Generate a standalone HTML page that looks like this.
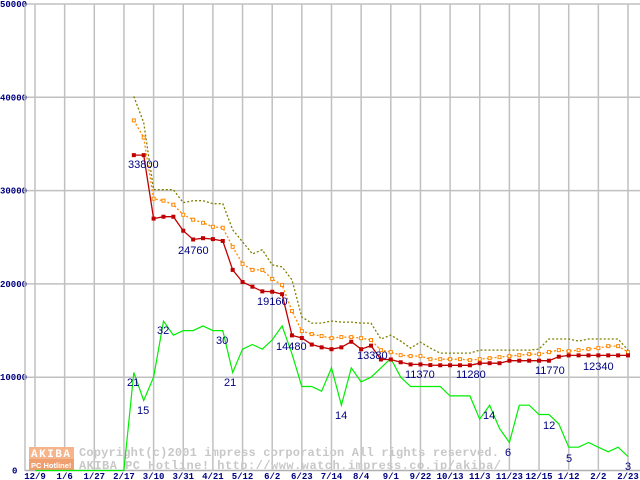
<!DOCTYPE html>
<html><head><meta charset="utf-8">
<style>
body{margin:0;background:#fff;}
svg{display:block;font-family:"Liberation Sans",sans-serif;}
.ax{font-family:"Liberation Mono",monospace;font-weight:bold;font-size:9px;fill:#000080;}
.lbl{font-size:11px;fill:#000080;}
.wm{font-family:"Liberation Mono",monospace;font-weight:bold;font-size:12px;fill:#c8c8c8;}
</style></head><body>
<svg id="chart" width="640" height="480" viewBox="0 0 640 480">
<g id="grid"></g>
<g id="wm">
 <rect x="29" y="447" width="45" height="12" fill="#f6b48a"/>
 <rect x="29" y="459" width="45" height="11" fill="#f0a070"/>
 <text x="31" y="457" font-family="Liberation Mono,monospace" font-weight="bold" font-size="11" fill="#fff" letter-spacing="1.5">AKIBA</text>
 <text x="31" y="468" font-family="Liberation Sans,sans-serif" font-weight="bold" font-size="7.5" fill="#fff">PC Hotline!</text>
 <text class="wm" x="79" y="456" textLength="420">Copyright(c)2001 impress corporation All rights reserved.</text>
 <text class="wm" x="79" y="469" textLength="422">AKIBA PC Hotline!  http://www.watch.impress.co.jp/akiba/</text>
</g>
<g id="series"></g>
<g id="labels"></g>
</svg>
<script>
const xLabels=["12/9","1/6","1/27","2/17","3/10","3/31","4/21","5/12","6/2","6/23","7/14","8/4","9/1","9/22","10/13","11/3","11/23","12/15","1/12","2/2","2/23"];
const yTicks=[0,10000,20000,30000,40000,50000];
const startWeek=10;
const olive=[40100,37300,30100,30100,30100,28700,28920,28920,28600,28600,25800,24510,23220,23650,22040,21820,20430,16450,15800,15800,16020,15910,15910,15800,15800,14090,14510,13870,13120,13760,13120,12580,12580,12580,12580,12900,12900,12900,12900,12900,12900,13010,14090,14090,14090,13870,14090,14090,14090,14090,12900];
const orange=[37520,35690,29130,28920,28490,27410,26880,26550,26120,26020,23970,22150,21500,21500,20530,19890,17090,14940,14620,14410,14190,14300,14300,14190,13980,12900,12690,12360,12260,12260,11930,11930,11930,11930,11830,11930,12040,12150,12260,12360,12470,12470,12690,12900,12790,12900,13010,13120,13330,13330,12690];
const red=[33800,33800,27000,27200,27200,25700,24760,24900,24800,24600,21500,20200,19700,19200,19160,18900,14480,14200,13500,13200,13000,13200,13800,13000,13380,11900,11900,11600,11370,11370,11300,11280,11280,11280,11280,11500,11500,11500,11770,11770,11770,11770,11770,12200,12340,12340,12340,12340,12340,12340,12340];
const shops=[0,0,0,0,0,0,0,0,0,0,21,15,20,32,29,30,30,31,30,30,21,26,27,26,28,31,25,18,18,17,22,14,22,19,20,22,24,20,18,18,18,18,16,16,16,11,14,9,6,14,14,12,12,10,5,5,6,5,4,5,3];
const priceLabels=[["33800",10,128,168],["24760",16,178,254],["19160",24,257,305],["14480",26,276,350],["13380",34,357,359],["11370",38,405,378],["11280",41,456,378],["11770",51,535,374],["12340",57,583,370]];
const shopLabels=[["21",127,386],["15",137,414],["32",157,334],["30",216,344],["21",224,386],["14",335,419],["14",483,419],["6",505,456],["12",543,429],["5",566,462],["3",625,470]];
const NS="http://www.w3.org/2000/svg";
function X(k){return 35+k*9.8833;}
function Y(v){return 470.5-v*0.00933;}
function mk(tag,attrs,parent){const e=document.createElementNS(NS,tag);for(const a in attrs)e.setAttribute(a,attrs[a]);parent.appendChild(e);return e;}
const grid=document.getElementById('grid');
yTicks.forEach(function(v){
 const l=mk('line',{x1:25,x2:640,y1:Y(v),y2:Y(v),stroke:v===0?'#b0b0b0':'#c0c0c0','stroke-width':1.5},grid);
 
 
 const t=mk('text',{x:v===0?12:0,y:Y(v)+3,class:'ax'},grid);
 t.textContent=v===0?'0':String(v);
 
 
});
const ax=mk('line',{x1:25,x2:25,y1:4,y2:471,stroke:'#c0c0c0','stroke-width':1.5},grid);


xLabels.forEach(function(s,i){
 const x=X(i*3);
 const l=mk('line',{x1:x,x2:x,y1:4,y2:471,stroke:'#c0c0c0','stroke-width':1.5},grid);
 
 
 const t=mk('text',{x:x,y:479,class:'ax','text-anchor':'middle'},grid);
 t.textContent=s;
 
 
});
const ser=document.getElementById('series');
function pts(arr,off,scale){return arr.map(function(v,i){return X(i+off).toFixed(1)+','+Y(v*scale).toFixed(1);}).join(' ');}
const g1=mk('polyline',{points:pts(shops,0,500),fill:'none',stroke:'#00ee00','stroke-width':1.2},ser);


const o1=mk('polyline',{points:pts(olive,startWeek,1),fill:'none',stroke:'#808000','stroke-width':1.3,'stroke-dasharray':'2,2'},ser);


const r1=mk('polyline',{points:pts(orange,startWeek,1),fill:'none',stroke:'#ff8800','stroke-width':1.3,'stroke-dasharray':'2,2'},ser);


orange.forEach(function(v,i){
 const m=mk('rect',{x:X(i+startWeek)-1.5,y:Y(v)-1.5,width:3,height:3,fill:'#fff',stroke:'#ff8800','stroke-width':1},ser);
 
 
});
const d1=mk('polyline',{points:pts(red,startWeek,1),fill:'none',stroke:'#c00000','stroke-width':1.3},ser);


red.forEach(function(v,i){
 const m=mk('rect',{x:X(i+startWeek)-2,y:Y(v)-2,width:4,height:4,fill:'#c00000'},ser);
 
 
});
const lab=document.getElementById('labels');
priceLabels.forEach(function(p){
 const t=mk('text',{x:p[2],y:p[3],class:'lbl'},lab);
 t.textContent=p[0];
 
 
});
shopLabels.forEach(function(p){
 const t=mk('text',{x:p[1],y:p[2],class:'lbl'},lab);
 t.textContent=p[0];
 
 
});
</script>
</body></html>
